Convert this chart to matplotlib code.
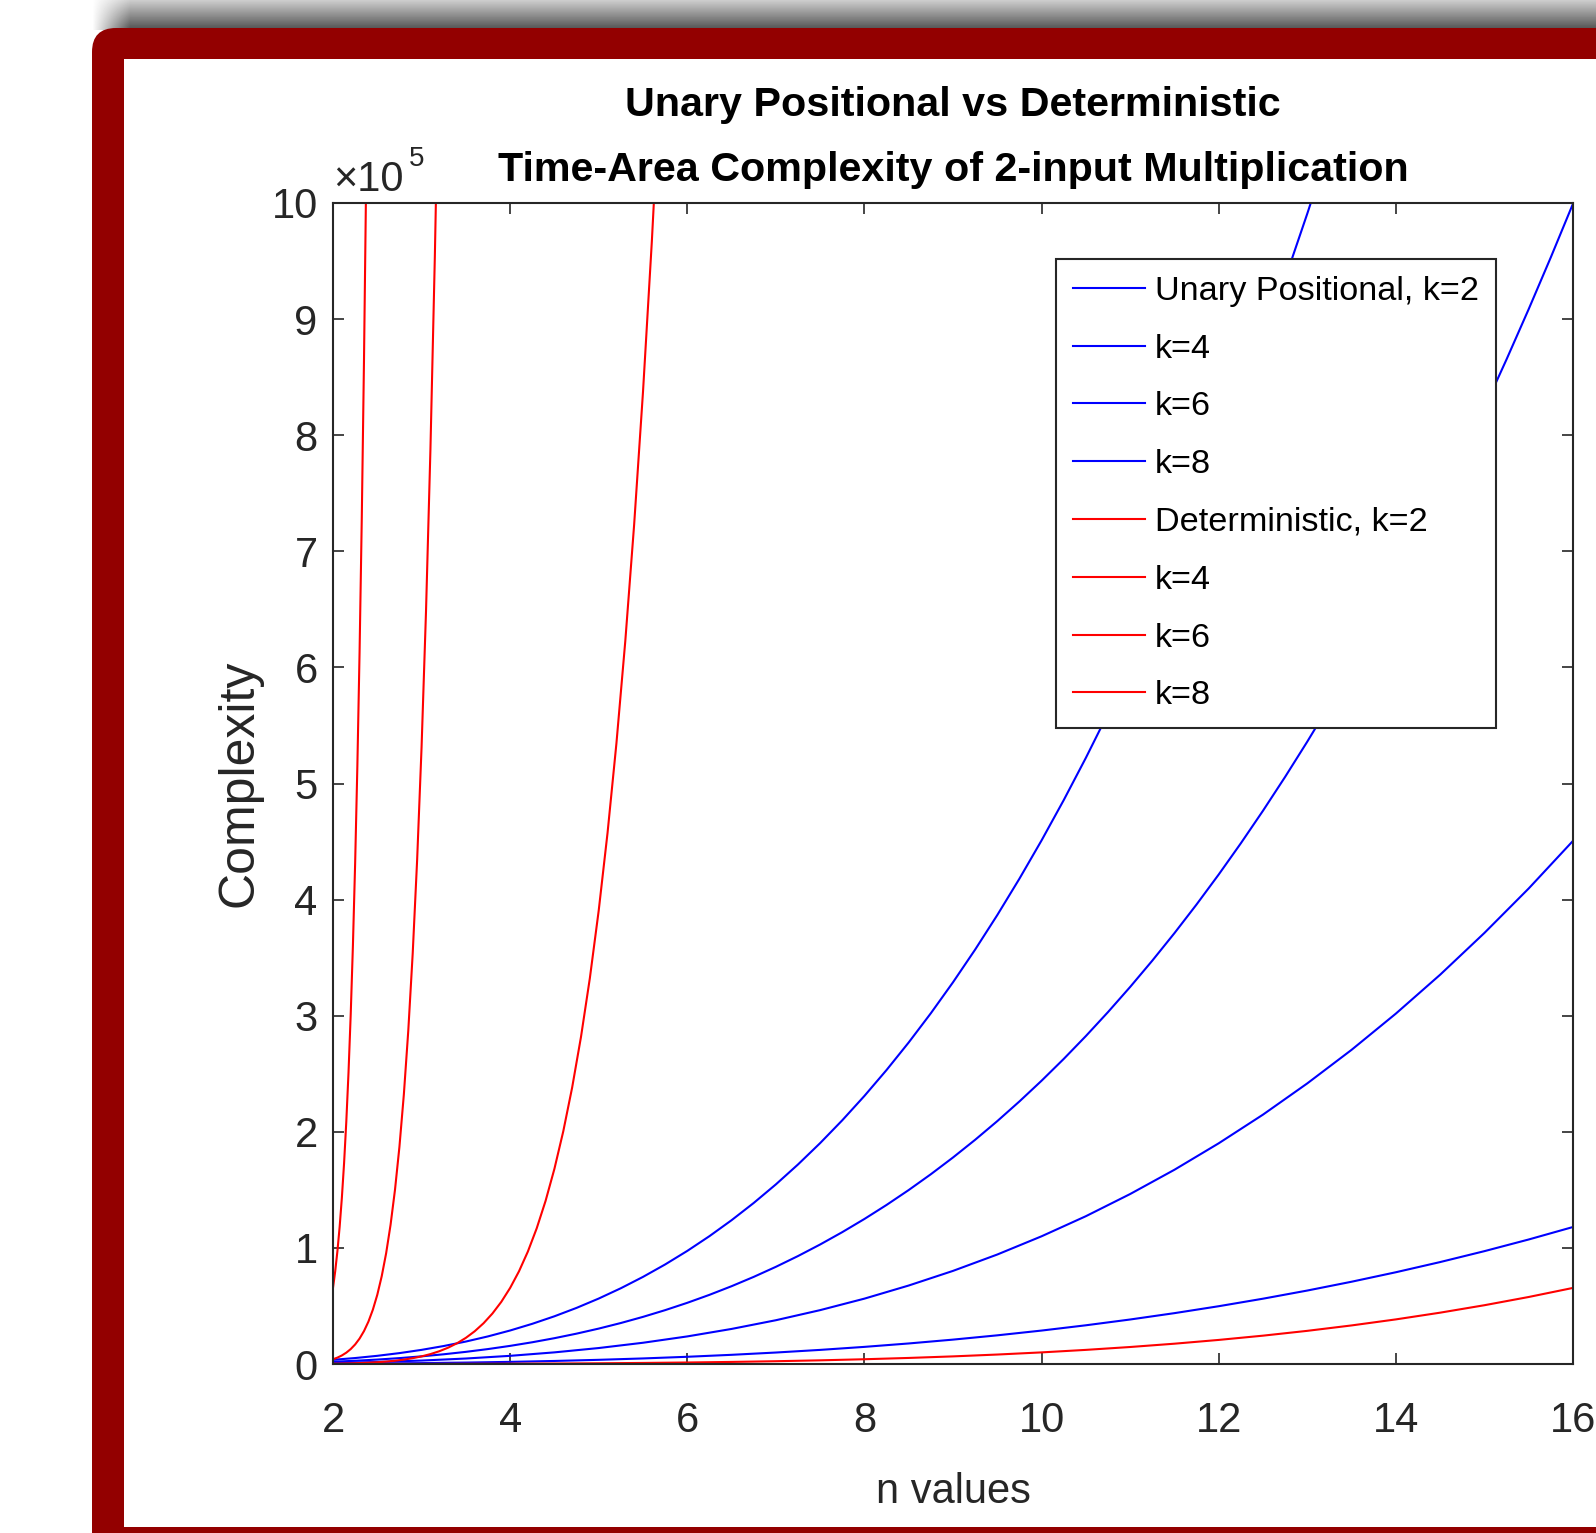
import numpy as np
import matplotlib.pyplot as plt
from matplotlib.patches import FancyBboxPatch, Rectangle

plt.rcParams['font.family'] = ['Liberation Sans', 'DejaVu Sans']

# n values (x axis)
n_fine = [2.0, 2.25, 2.5, 2.75, 3.0, 3.25, 3.5, 3.75, 4.0, 4.25, 4.5, 4.75, 5.0, 5.25, 5.5,
          5.75, 6.0, 6.25, 6.5, 6.75, 7.0, 7.25, 7.5, 7.75, 8.0, 8.25, 8.5, 8.75, 9.0, 9.25,
          9.5, 9.75, 10.0, 10.25, 10.5, 10.75, 11.0, 11.25, 11.5, 11.75, 12.0, 12.25, 12.5,
          12.75, 13.0, 13.25, 13.5, 13.75, 14.0, 14.25, 14.5, 14.75, 15.0, 15.25, 15.5,
          15.75, 16.0]
n_vals = [2.0, 2.5, 3.0, 3.5, 4.0, 4.5, 5.0, 5.5, 6.0, 6.5, 7.0, 7.5, 8.0, 8.5, 9.0,
          9.5, 10.0, 10.5, 11.0, 11.5, 12.0, 12.5, 13.0, 13.5, 14.0, 14.5, 15.0, 15.5, 16.0]

# complexity values, in units of 1e5
unary_k2 = [0.03608, 0.05137, 0.07047, 0.09379, 0.12177, 0.15482, 0.19337, 0.23783, 0.28864,
            0.34621, 0.41097, 0.48335, 0.56375, 0.65261, 0.75035, 0.85739, 0.97416, 1.10107,
            1.23856, 1.38704, 1.54693, 1.71866, 1.90266, 2.09933, 2.30912, 2.53244, 2.7697,
            3.02135, 3.28779, 3.56945, 3.86676, 4.18014, 4.51, 4.85678, 5.22089, 5.60276,
            6.00281, 6.42146, 6.85915, 7.31628, 7.79328, 8.29058, 8.80859, 9.34775, 9.90847,
            10.49118, 11.09629, 11.72424, 12.37544, 13.05032, 13.7493, 14.4728, 15.2213,
            15.9951, 16.7947, 17.6205, 18.473]
unary_k4 = [0.01952, 0.02779, 0.03813, 0.05074, 0.06588, 0.08376, 0.10462, 0.12867, 0.15616,
            0.18731, 0.22235, 0.2615, 0.305, 0.35308, 0.40596, 0.46387, 0.52704, 0.5957,
            0.67009, 0.75041, 0.83692, 0.92983, 1.02938, 1.13578, 1.24928, 1.3701, 1.49847,
            1.63461, 1.77876, 1.93115, 2.092, 2.26154, 2.44, 2.62761, 2.82461, 3.0312, 3.24764,
            3.47414, 3.71094, 3.95825, 4.21632, 4.48537, 4.76563, 5.05732, 5.36068, 5.67594,
            6.00332, 6.34305, 6.69536, 7.06048, 7.43865, 7.83007, 8.235, 8.65365, 9.08626,
            9.53304, 9.99424]
unary_k6 = [0.0088, 0.0172, 0.0297, 0.0472, 0.0704, 0.1002, 0.1375, 0.183, 0.2376, 0.302, 0.377,
            0.464, 0.563, 0.676, 0.802, 0.943, 1.10, 1.273, 1.464, 1.673, 1.901, 2.148, 2.417,
            2.706, 3.018, 3.353, 3.713, 4.096, 4.506]
unary_k8 = [0.0023, 0.0045, 0.0078, 0.0123, 0.0184, 0.0262, 0.036, 0.0479, 0.0622, 0.0791, 0.0988,
            0.1215, 0.1475, 0.1769, 0.21, 0.2469, 0.288, 0.3334, 0.3833, 0.438, 0.4977, 0.5625,
            0.6327, 0.7086, 0.7903, 0.878, 0.972, 1.0725, 1.180]

det_k2 = [0.0002, 0.0004, 0.0008, 0.0015, 0.0026, 0.0041, 0.0063, 0.0092, 0.013, 0.0179, 0.024,
          0.0316, 0.041, 0.0522, 0.0656, 0.0815, 0.1, 0.1216, 0.1464, 0.1749, 0.2074, 0.2441,
          0.2856, 0.3322, 0.3842, 0.4421, 0.5063, 0.5772, 0.6554]

n_k4 = [2.0, 2.1, 2.2, 2.3, 2.4, 2.5, 2.6, 2.7, 2.8, 2.9, 3.0, 3.1, 3.2, 3.3, 3.4, 3.5, 3.6,
        3.7, 3.8, 3.9, 4.0, 4.1, 4.2, 4.3, 4.4, 4.5, 4.6, 4.7, 4.8, 4.9, 5.0, 5.1, 5.2, 5.3,
        5.4, 5.5, 5.6, 5.7]
det_k4 = [0.00256, 0.00378, 0.00549, 0.00783, 0.01101, 0.01526, 0.02088, 0.02824, 0.03778,
          0.05003, 0.06561, 0.08529, 0.10995, 0.14064, 0.17858, 0.22518, 0.28211, 0.35125,
          0.43478, 0.5352, 0.65536, 0.79849, 0.96827, 1.16882, 1.40482, 1.68151, 2.00476,
          2.38113, 2.81793, 3.32329, 3.90625, 4.57679, 5.34597, 6.22597, 7.2302, 8.37339,
          9.67173, 11.14292]

n_k6 = [2.0, 2.05, 2.1, 2.15, 2.2, 2.25, 2.3, 2.35, 2.4, 2.45, 2.5, 2.55, 2.6, 2.65, 2.7,
        2.75, 2.8, 2.85, 2.9, 2.95, 3.0, 3.05, 3.1, 3.15, 3.2]
det_k6 = [0.04096, 0.05508, 0.07356, 0.09756, 0.12855, 0.16834, 0.21915, 0.28367, 0.3652,
          0.46773, 0.59604, 0.75593, 0.95428, 1.19936, 1.50094, 1.87064, 2.32217, 2.87168,
          3.53813, 4.34372, 5.31435, 6.48034, 7.8766, 9.5438, 11.529]

n_k8 = [2.0, 2.025, 2.05, 2.075, 2.1, 2.125, 2.15, 2.175, 2.2, 2.225, 2.25, 2.275, 2.3,
        2.325, 2.35, 2.375, 2.4]
det_k8 = [0.6554, 0.7994, 0.9729, 1.1811, 1.4305, 1.7288, 2.0846, 2.5081, 3.0113, 3.6081,
          4.3144, 5.1487, 6.1325, 7.2906, 8.6513, 10.247, 12.117]

labels = ['Unary Positional, k=2', 'k=4', 'k=6', 'k=8',
          'Deterministic, k=2', 'k=4', 'k=6', 'k=8']

W, H = 1596, 1533
fig = plt.figure(figsize=(W / 100, H / 100), dpi=100)

# background: shadow strip + dark red rounded frame
bg = fig.add_axes([0, 0, 1, 1], zorder=-5)
bg.set_xlim(0, W)
bg.set_ylim(H, 0)
bg.axis('off')

ys = np.linspace(0, 1, 30)[:, None]
xs = np.linspace(0, 1, 200)[None, :]
shade = 0.80 - 0.48 * ys
fade = np.clip(xs * 200 / 38, 0, 1)
img = 1 - (1 - shade) * fade
bg.imshow(img, extent=(92, 292, 30, 0), cmap='gray', vmin=0, vmax=1, aspect='auto')
bg.imshow(np.tile(shade, (1, 2)), extent=(290, W, 30, 0), cmap='gray', vmin=0, vmax=1,
          aspect='auto')
bg.add_patch(FancyBboxPatch((92, 28), 1800, 1700, boxstyle='round,pad=0,rounding_size=24',
                            fc='#930000', ec='none'))
bg.add_patch(Rectangle((124, 59), 1800, 1468, fc='white', ec='none'))

ax = fig.add_axes([333 / W, 1 - 1364 / H, 1240 / W, 1161 / H])
dark = '#262626'

ax.plot(n_fine, unary_k2, color='#0000ff', lw=1.5)
ax.plot(n_fine, unary_k4, color='#0000ff', lw=1.5)
ax.plot(n_vals, unary_k6, color='#0000ff', lw=1.5)
ax.plot(n_vals, unary_k8, color='#0000ff', lw=1.5)
ax.plot(n_vals, det_k2, color='#ff0000', lw=1.5)
ax.plot(n_k4, det_k4, color='#ff0000', lw=1.5)
ax.plot(n_k6, det_k6, color='#ff0000', lw=1.5)
ax.plot(n_k8, det_k8, color='#ff0000', lw=1.5)

ax.set_xlim(2, 16)
ax.set_ylim(0, 10)
ax.set_xticks(range(2, 17, 2))
ax.set_yticks(range(0, 11))
ax.tick_params(direction='in', length=8, width=1.2, top=True, right=True, labelsize=30,
               colors=dark)
ax.tick_params(axis='x', pad=27)
ax.tick_params(axis='y', pad=11)
for sp in ax.spines.values():
    sp.set_color(dark)
    sp.set_linewidth(1.5)

ax.legend(ax.lines, labels, loc='upper right', bbox_to_anchor=(0.938, 0.952), borderaxespad=0,
          fontsize=24.7, handlelength=2.1, handletextpad=0.28, labelspacing=0.78,
          borderpad=0.5, fancybox=False, edgecolor=dark, framealpha=1)
ax.get_legend().get_frame().set_linewidth(1.5)

# exponent note
ax.text(0.0, 1.01, '\u00d710', transform=ax.transAxes, ha='left', va='baseline', fontsize=30,
        color=dark)
ax.text(0.061, 1.032, '5', transform=ax.transAxes, ha='left', va='baseline', fontsize=20,
        color=dark)

ax.text(0.5, 1.075, 'Unary Positional vs Deterministic', transform=ax.transAxes,
        ha='center', va='baseline', fontsize=29.7, fontweight='bold')
ax.text(0.5, 1.019, 'Time-Area Complexity of 2-input Multiplication', transform=ax.transAxes,
        ha='center', va='baseline', fontsize=29.7, fontweight='bold')

ax.text(0.5, -0.120, 'n values', transform=ax.transAxes, ha='center', va='baseline',
        fontsize=30, color=dark)
ax.text(-0.065, 0.5, 'Complexity', transform=ax.transAxes, rotation=90, rotation_mode='anchor',
        ha='center', va='baseline', fontsize=36, color=dark)

fig.savefig('out.png', dpi=100)
